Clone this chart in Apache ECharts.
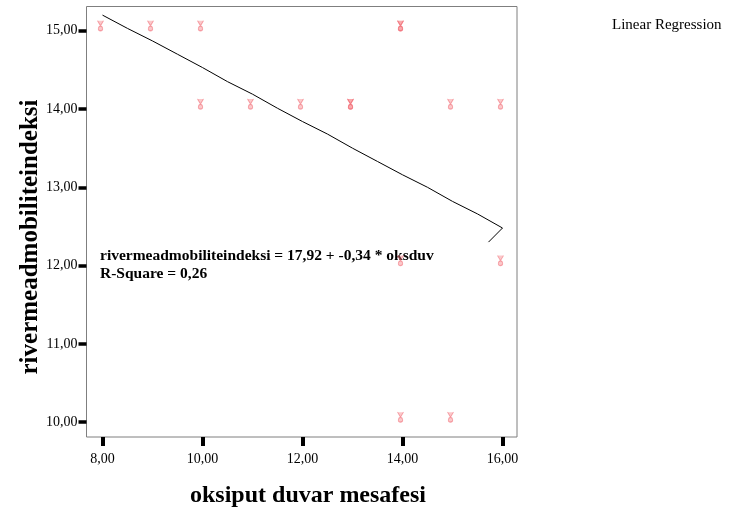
<!DOCTYPE html>
<html>
<head>
<meta charset="utf-8">
<script src="https://cdn.jsdelivr.net/npm/echarts@6/dist/echarts.min.js"></script>
<style>
  html, body { margin: 0; padding: 0; background: #fff; }
  #chart { width: 734px; height: 511px; }
</style>
</head>
<body>
<div id="chart"></div>
<script>
// observed cases (x = oksiput duvar mesafesi, y = rivermead), duplicates kept
var obsX = [8, 9, 10, 14, 14, 10, 11, 12, 13, 13, 15, 16, 14, 16, 14, 15];
var obsY = [15, 15, 15, 15, 15, 14, 14, 14, 14, 14, 14, 14, 12, 12, 10, 10];

// fitted line as drawn
var fitX = [8.0, 8.5, 9.0, 9.5, 10.0, 10.5, 11.0, 11.5, 12.0, 12.5, 13.0, 13.5, 14.0, 14.5, 15.0, 15.5, 16.0, 15.72];
var fitY = [15.2, 15.03, 14.87, 14.7, 14.53, 14.35, 14.19, 14.01, 13.84, 13.68, 13.5, 13.33, 13.16, 13.0, 12.82, 12.66, 12.48, 12.3];

var xTicks = [8, 10, 12, 14, 16];
var yTicks = [10, 11, 12, 13, 14, 15];

var serif = '"Liberation Serif", "DejaVu Serif", serif';

function comma(v) { return v.toFixed(2).replace('.', ','); }

var myChart = echarts.init(document.getElementById('chart'));

var scatterData = obsX.map(function (x, i) { return [x, obsY[i]]; });
var lineData = fitX.map(function (x, i) { return [x, fitY[i]]; });

var option = {
    animation: false,
    backgroundColor: '#fff',
    grid: {
        left: 86.5, right: 217, top: 6.5, bottom: 74,
        show: true, borderColor: '#7f7f7f', borderWidth: 1,
        containLabel: false
    },
    xAxis: {
        type: 'value',
        min: 7.68, max: 16.29,
        axisLine: { show: false },
        splitLine: { show: false },
        axisTick: {
            show: true, customValues: xTicks, length: 9,
            lineStyle: { color: '#000', width: 4 }
        },
        axisLabel: {
            customValues: xTicks, margin: 15,
            formatter: comma,
            fontFamily: serif, fontSize: 14, color: '#000'
        }
    },
    yAxis: {
        type: 'value',
        min: 9.81, max: 15.31,
        axisLine: { show: false },
        splitLine: { show: false },
        axisTick: {
            show: true, customValues: yTicks, length: 8,
            lineStyle: { color: '#000', width: 3.5 }
        },
        axisLabel: {
            customValues: yTicks, margin: 9,
            formatter: comma,
            fontFamily: serif, fontSize: 14, color: '#000'
        }
    },
    graphic: [
        {
            type: 'text', left: 612, top: 18,
            style: { text: 'Linear Regression', font: '15px ' + serif, fill: '#000' }
        },
        {
            type: 'text', left: 100, top: 247,
            style: {
                text: 'rivermeadmobiliteindeksi = 17,92 + -0,34 * oksduv\nR-Square = 0,26',
                font: 'bold 15.5px ' + serif, fill: '#000', lineHeight: 18
            }
        },
        {
            type: 'text', x: 31, y: 237, rotation: Math.PI / 2,
            style: {
                text: 'rivermeadmobiliteindeksi', font: 'bold 25px ' + serif,
                fill: '#000', align: 'center', verticalAlign: 'middle'
            }
        },
        {
            type: 'text', x: 308, y: 496,
            style: {
                text: 'oksiput duvar mesafesi', font: 'bold 24px ' + serif,
                fill: '#000', align: 'center', verticalAlign: 'middle'
            }
        }
    ],
    series: [
        {
            name: 'Observed',
            type: 'scatter',
            data: scatterData,
            symbol: 'path://M0,0 L3,5 L6,0 M3,5 C0,6 0,10 3,10 C6,10 6,6 3,5 Z',
            symbolSize: [6, 10],
            symbolOffset: [-2, -5],
            itemStyle: { color: 'rgba(245,130,135,0.55)', borderColor: 'rgba(240,100,110,0.7)', borderWidth: 1 },
            z: 2
        },
        {
            name: 'Linear Regression',
            type: 'line',
            data: lineData,
            showSymbol: false,
            symbol: 'none',
            lineStyle: { color: '#000', width: 1 },
            z: 3
        }
    ]
};

myChart.setOption(option);
</script>
</body>
</html>
